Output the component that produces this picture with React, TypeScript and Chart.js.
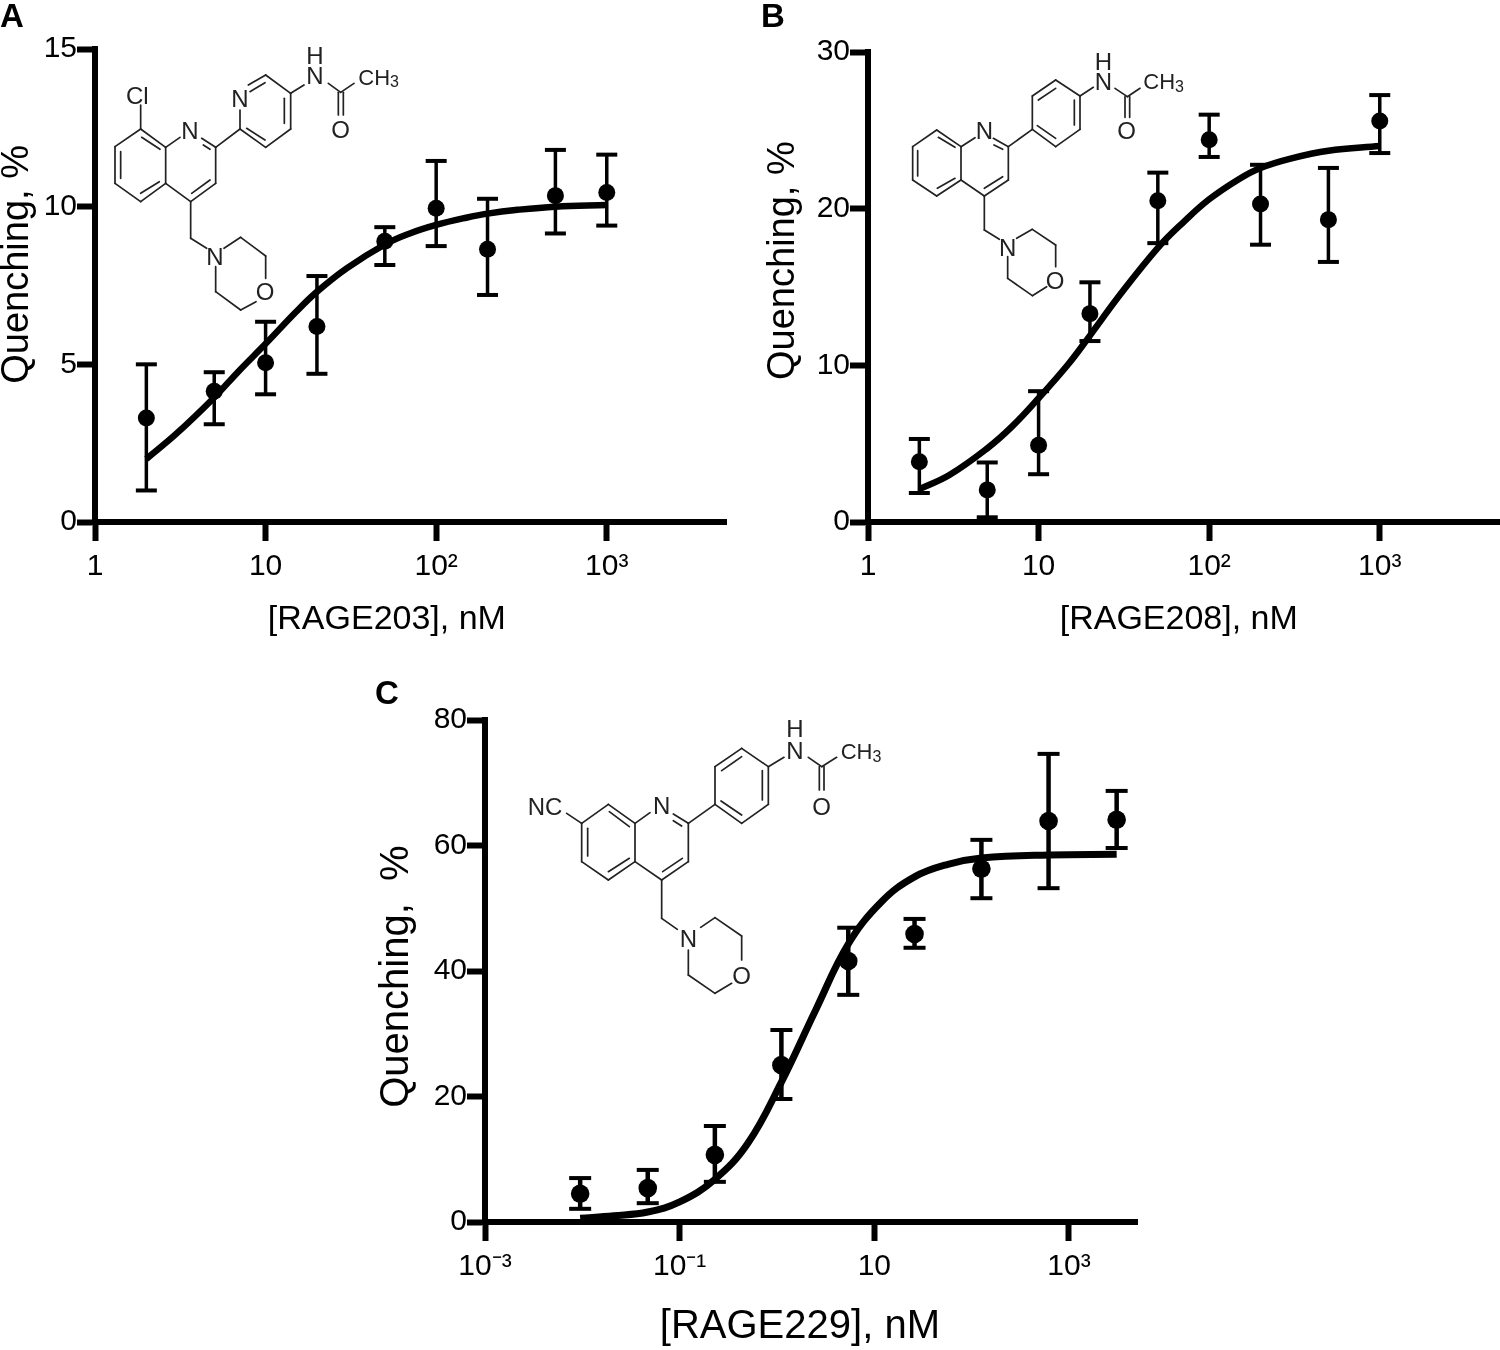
import React, { useEffect, useRef } from "react";
import { Chart, registerables } from "chart.js";

Chart.register(...registerables);

const FONT = "'Liberation Sans', Arial, sans-serif";

// Panel A
const xA = [2, 5, 10, 20, 50, 100, 200, 500, 1000];
const yA = [3.3, 4.15, 5.05, 6.2, 8.9, 9.95, 8.65, 10.35, 10.45];
const hiA = [5.0, 4.75, 6.35, 7.8, 9.35, 11.45, 10.25, 11.8, 11.65];
const loA = [1.0, 3.1, 4.05, 4.7, 8.15, 8.75, 7.2, 9.15, 9.4];
const curveXA = [2, 3, 5, 7, 10, 15, 20, 30, 50, 70, 100, 150, 200, 300, 500, 1000];
const curveYA = [2.0, 2.8, 3.95, 4.8, 5.65, 6.65, 7.3, 8.05, 8.8, 9.15, 9.42, 9.65, 9.78, 9.9, 10.0, 10.05];

// Panel B
const xB = [2, 5, 10, 20, 50, 100, 200, 500, 1000];
const yB = [3.85, 2.05, 4.9, 13.3, 20.5, 24.4, 20.3, 19.3, 25.6];
const hiB = [5.3, 3.8, 8.35, 15.3, 22.3, 26, 22.8, 22.6, 27.25];
const loB = [1.85, 0.3, 3.05, 11.55, 17.8, 23.3, 17.7, 16.6, 23.55];
const curveXB = [2, 3, 5, 7, 10, 15, 20, 30, 50, 70, 100, 150, 200, 300, 500, 1000];
const curveYB = [2.1, 3.0, 4.7, 6.1, 7.9, 10.1, 11.9, 14.5, 17.5, 19.1, 20.6, 21.9, 22.6, 23.2, 23.7, 24];

// Panel C
const xC = [0.0095, 0.047, 0.23, 1.11, 5.4, 25.9, 126, 617, 3090];
const yC = [4.5, 5.4, 10.7, 25, 41.6, 45.9, 56.3, 63.9, 64.1];
const hiC = [7, 8.3, 15.3, 30.6, 46.9, 48.3, 60.9, 74.6, 68.7];
const loC = [2.1, 3.0, 6.4, 19.6, 36.2, 43.7, 51.6, 53.2, 59.6];
const curveXC = [0.0095, 0.021, 0.047, 0.1, 0.23, 0.5, 1.11, 2.5, 5.4, 11.8, 25.9, 57, 126, 617, 3090];
const curveYC = [0.6, 1.0, 1.6, 3.2, 6.8, 12.5, 22.3, 33.8, 44.3, 51, 55, 57, 58, 58.5, 58.6];

const ticksAB = [1, 10, 100, 1000];
const ticksABLabels = ["1", "10", "10²", "10³"];
const ticksC = [0.001, 0.1, 10, 1000];
const ticksCLabels = ["10⁻³", "10⁻¹", "10", "10³"];

type P = {
  box: [number, number, number, number];
  area: [number, number, number, number];
  xs: number[]; ys: number[]; hi: number[]; lo: number[]; cx: number[]; cy: number[];
  xMin: number; xMax: number; yMax: number; step: number;
  ticks: number[]; labels: string[];
  xTitle: string; yTitle: string; xTitleSize: number; yTitleSize: number; tickSize: number;
  errW: number; capR: number; dotR: number; curveW: number;
};

const panels: P[] = [
  {
    box: [-1, 0, 760, 637], area: [95, 49, 726, 522],
    xs: xA, ys: yA, hi: hiA, lo: loA, cx: curveXA, cy: curveYA,
    xMin: 1, xMax: 5000, yMax: 15, step: 5, ticks: ticksAB, labels: ticksABLabels,
    xTitle: "[RAGE203], nM     ", yTitle: "    Quenching, %", xTitleSize: 34, yTitleSize: 38, tickSize: 30,
    errW: 3.5, capR: 10.5, dotR: 8.5, curveW: 6.5,
  },
  {
    box: [765, 0, 780, 637], area: [868, 52, 1499, 522],
    xs: xB, ys: yB, hi: hiB, lo: loB, cx: curveXB, cy: curveYB,
    xMin: 1, xMax: 5000, yMax: 30, step: 10, ticks: ticksAB, labels: ticksABLabels,
    xTitle: "[RAGE208], nM ", yTitle: "     Quenching, %", xTitleSize: 34, yTitleSize: 38, tickSize: 30,
    errW: 3.5, capR: 10.5, dotR: 8.5, curveW: 6.5,
  },
  {
    box: [377, 700, 800, 647], area: [485, 720, 1137, 1222],
    xs: xC, ys: yC, hi: hiC, lo: loC, cx: curveXC, cy: curveYC,
    xMin: 0.001, xMax: 5000, yMax: 80, step: 20, ticks: ticksC, labels: ticksCLabels,
    xTitle: "[RAGE229], nM  ", yTitle: "Quenching,  % ", xTitleSize: 40, yTitleSize: 40, tickSize: 30,
    errW: 4.5, capR: 11, dotR: 9.3, curveW: 7,
  },
];

function errorPoints(p: P) {
  const out: any[] = [];
  p.xs.forEach((x, i) => {
    out.push({ x, y: p.lo[i] }, { x, y: p.hi[i] }, { x, y: null });
  });
  return out;
}

function ChartPanel({ p }: { p: P }) {
  const ref = useRef<HTMLCanvasElement>(null);
  useEffect(() => {
    const [bl, bt, bw, bh] = p.box;
    const [al, at, ar, ab] = p.area;
    const chart = new Chart(ref.current!, {
      type: "scatter",
      data: {
        datasets: [
          {
            label: "Error",
            data: errorPoints(p),
            showLine: true,
            spanGaps: false,
            borderColor: "#000",
            borderWidth: p.errW,
            pointStyle: "line",
            pointRadius: p.capR,
            pointBorderWidth: 4,
            pointBorderColor: "#000",
            clip: false,
          },
          {
            label: "Fit",
            data: p.cx.map((x, i) => ({ x, y: p.cy[i] })),
            showLine: true,
            borderColor: "#000",
            borderWidth: p.curveW,
            tension: 0.4,
            pointRadius: 0,
            clip: false,
          },
          {
            label: "Mean",
            data: p.xs.map((x, i) => ({ x, y: p.ys[i] })),
            showLine: false,
            pointStyle: "circle",
            pointRadius: p.dotR,
            pointBackgroundColor: "#000",
            pointBorderColor: "#000",
            pointBorderWidth: 0,
            clip: false,
          },
        ],
      } as any,
      options: {
        animation: false,
        responsive: false,
        maintainAspectRatio: false,
        layout: { padding: { left: 0, top: at - bt, right: bl + bw - ar, bottom: 0 } },
        plugins: { legend: { display: false }, tooltip: { enabled: false } },
        scales: {
          x: {
            type: "logarithmic",
            min: p.xMin,
            max: p.xMax,
            border: { display: true, color: "#000", width: 6 },
            grid: { display: true, drawOnChartArea: false, drawTicks: true, tickLength: 19, tickWidth: 6, tickColor: "#000", color: "#000" },
            ticks: {
              color: "#000",
              padding: 8,
              autoSkip: false,
              maxRotation: 0,
              font: { family: FONT, size: p.tickSize },
              callback: (v: any) => {
                const i = p.ticks.findIndex((t) => Math.abs(Math.log10(t) - Math.log10(v)) < 1e-6);
                return i >= 0 ? p.labels[i] : "";
              },
            },
            afterBuildTicks: (s: any) => {
              s.ticks = p.ticks.map((value) => ({ value, major: true }));
            },
            afterFit: (s: any) => {
              s.height = bt + bh - ab;
              s.paddingLeft = s.paddingRight = 0;
            },
            title: {
              display: true,
              text: p.xTitle,
              color: "#000",
              padding: 0,
              font: { family: FONT, size: p.xTitleSize, lineHeight: 1 },
            },
          },
          y: {
            type: "linear",
            min: 0,
            max: p.yMax,
            border: { display: true, color: "#000", width: 6 },
            grid: { display: true, drawOnChartArea: false, drawTicks: true, tickLength: 18, tickWidth: 6, tickColor: "#000", color: "#000" },
            ticks: {
              color: "#000",
              padding: 0,
              stepSize: p.step,
              font: { family: FONT, size: p.tickSize },
            },
            afterFit: (s: any) => {
              s.width = al - bl;
              s.paddingTop = s.paddingBottom = 0;
            },
            title: {
              display: true,
              text: p.yTitle,
              color: "#000",
              padding: 0,
              font: { family: FONT, size: p.yTitleSize, lineHeight: 1 },
            },
          },
        },
      } as any,
    });
    return () => chart.destroy();
  }, [p]);
  const [l, t, w, h] = p.box;
  return (
    <canvas
      ref={ref}
      width={w}
      height={h}
      style={{ position: "absolute", left: l, top: t, width: w, height: h }}
    />
  );
}

// ---- Chemical structures, decoration in crop coordinates (3x of page) ----
type Seg = number[];
type Label = [string, number, number];
type Mol = { ox: number; oy: number; segs: Seg[]; labels: Label[]; ch3: [number, number] };

const molA: Mol = {
  ox: 100, oy: 30,
  segs: [
    [122, 297, 197, 352], [197, 352, 197, 460], [197, 460, 122, 515], [122, 515, 45, 460], [45, 460, 45, 350], [45, 350, 122, 297],
    [125, 322, 180, 358], [62, 365, 62, 445], [122, 490, 178, 455],
    [122, 297, 122, 225],
    [197, 352, 240, 322], [305, 325, 347, 352], [310, 345, 330, 358], [347, 352, 347, 460], [347, 460, 272, 515], [330, 450, 275, 490], [272, 515, 197, 460],
    [272, 515, 272, 625], [272, 625, 320, 655],
    [372, 655, 422, 622], [422, 622, 497, 678], [497, 678, 497, 745], [468, 815, 422, 840], [422, 840, 347, 785], [347, 785, 347, 710],
    [347, 352, 420, 297], [420, 297, 420, 240], [420, 297, 497, 352], [440, 295, 495, 330], [497, 352, 572, 297], [572, 297, 572, 190], [553, 280, 553, 205], [572, 190, 497, 135], [445, 165, 497, 135], [450, 185, 495, 158],
    [572, 190, 612, 165], [685, 160, 722, 187], [715, 187, 715, 255], [730, 187, 730, 255], [722, 187, 762, 160],
  ],
  labels: [["Cl", 112, 195], ["N", 270, 300], ["N", 345, 680], ["O", 495, 785], ["N", 420, 205], ["N", 645, 135], ["H", 645, 75], ["O", 722, 297]],
  ch3: [775, 142],
};

const molB: Mol = {
  ox: 900, oy: 30,
  segs: [
    [110, 300, 183, 350], [183, 350, 183, 450], [183, 450, 110, 498], [110, 498, 38, 450], [38, 450, 38, 350], [38, 350, 110, 300],
    [115, 322, 165, 352], [53, 362, 53, 438], [112, 475, 165, 445],
    [183, 350, 225, 323], [280, 325, 325, 350], [282, 345, 308, 358], [325, 350, 325, 450], [325, 450, 253, 498], [308, 440, 253, 475], [253, 498, 183, 450],
    [253, 498, 253, 600], [253, 600, 298, 628],
    [350, 625, 397, 598], [397, 598, 467, 645], [467, 645, 467, 710], [440, 770, 397, 797], [397, 797, 323, 745], [323, 745, 323, 680],
    [325, 350, 397, 298], [397, 298, 397, 198], [397, 198, 467, 150], [467, 150, 540, 198], [540, 198, 540, 298], [540, 298, 467, 350], [467, 350, 397, 298],
    [415, 210, 467, 175], [523, 210, 523, 285], [467, 325, 412, 287],
    [540, 198, 580, 172], [645, 175, 682, 200], [675, 200, 675, 262], [689, 200, 689, 262], [682, 200, 720, 175],
  ],
  labels: [["N", 253, 300], ["N", 323, 652], ["O", 465, 750], ["N", 610, 155], ["H", 610, 95], ["O", 680, 300]],
  ch3: [730, 155],
};

const molC: Mol = {
  ox: 520, oy: 700,
  segs: [
    [265, 313, 345, 370], [345, 370, 345, 485], [345, 485, 265, 540], [265, 540, 185, 485], [185, 485, 185, 370], [185, 370, 265, 313],
    [268, 335, 328, 380], [203, 385, 203, 468], [265, 515, 328, 475],
    [140, 340, 185, 370],
    [345, 370, 390, 338], [460, 342, 505, 370], [460, 362, 485, 378], [505, 370, 505, 485], [505, 485, 425, 540], [487, 475, 428, 515], [425, 540, 345, 485],
    [425, 540, 425, 655], [425, 655, 472, 688],
    [542, 682, 585, 653], [585, 653, 665, 708], [665, 708, 665, 780], [635, 850, 585, 880], [585, 880, 505, 825], [505, 825, 505, 750],
    [505, 370, 585, 313], [585, 313, 585, 200], [585, 200, 665, 145], [665, 145, 745, 200], [745, 200, 745, 313], [745, 313, 665, 370], [665, 370, 585, 313],
    [605, 212, 665, 170], [727, 212, 727, 300], [665, 345, 603, 303],
    [745, 200, 792, 172], [865, 172, 905, 200], [898, 200, 898, 270], [912, 200, 912, 270], [905, 200, 950, 172],
  ],
  labels: [["NC", 75, 318], ["N", 425, 315], ["N", 505, 715], ["O", 665, 825], ["N", 825, 150], ["H", 825, 85], ["O", 905, 318]],
  ch3: [962, 155],
};

const molecules = [molA, molB, molC];
const panelLetters: Label[] = [["A", 12, 27], ["B", 773, 27], ["C", 387, 704]];

function Molecule({ m }: { m: Mol }) {
  const X = (v: number) => m.ox + v / 3;
  const Y = (v: number) => m.oy + v / 3;
  return (
    <g>
      {m.segs.map((s, i) => (
        <line key={i} x1={X(s[0])} y1={Y(s[1])} x2={X(s[2])} y2={Y(s[3])} stroke="#222" strokeWidth={1.7} strokeLinecap="round" />
      ))}
      {m.labels.map((l, i) => (
        <text key={i} x={X(l[1])} y={Y(l[2])} textAnchor="middle" dominantBaseline="central" fontFamily={FONT} fontSize={24} fill="#222">
          {l[0]}
        </text>
      ))}
      <text x={X(m.ch3[0])} y={Y(m.ch3[1])} dominantBaseline="central" fontFamily={FONT} fontSize={22} fill="#222">
        CH<tspan fontSize={16} dy={4}>3</tspan>
      </text>
    </g>
  );
}

export default function App() {
  useEffect(() => {
    document.body.style.margin = "0";
  }, []);
  return (
    <div style={{ position: "absolute", left: 0, top: 0, width: 1500, height: 1350, background: "#fff", overflow: "hidden" }}>
      {panels.map((p, i) => (
        <ChartPanel key={i} p={p} />
      ))}
      <svg width={1500} height={1350} style={{ position: "absolute", left: 0, top: 0, pointerEvents: "none" }}>
        {molecules.map((m, i) => (
          <Molecule key={i} m={m} />
        ))}
        {panelLetters.map((l, i) => (
          <text key={i} x={l[1]} y={l[2]} textAnchor="middle" fontFamily={FONT} fontWeight="bold" fontSize={33} fill="#000">
            {l[0]}
          </text>
        ))}
      </svg>
    </div>
  );
}
